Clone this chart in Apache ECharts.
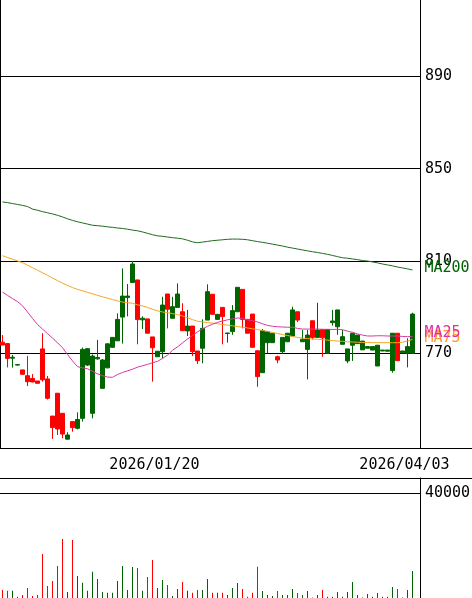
<!DOCTYPE html>
<html><head><meta charset="utf-8">
<script src="https://cdn.jsdelivr.net/npm/echarts@6/dist/echarts.min.js"></script>
<style>html,body{margin:0;padding:0;background:#fff}#c{width:472px;height:598px}</style>
</head><body><div id="c"></div>
<script>
const dates = ['2025/12/01','2025/12/02','2025/12/03','2025/12/04','2025/12/05','2025/12/08','2025/12/09','2025/12/10','2025/12/11','2025/12/12',
'2025/12/15','2025/12/16','2025/12/17','2025/12/18','2025/12/19','2025/12/22','2025/12/23','2025/12/24','2025/12/25','2025/12/26',
'2025/12/29','2025/12/30','2026/01/05','2026/01/06','2026/01/07','2026/01/08','2026/01/09','2026/01/13','2026/01/14','2026/01/15',
'2026/01/16','2026/01/19','2026/01/20','2026/01/21','2026/01/22','2026/01/23','2026/01/26','2026/01/27','2026/01/28','2026/01/29',
'2026/01/30','2026/02/02','2026/02/03','2026/02/04','2026/02/05','2026/02/06','2026/02/09','2026/02/10','2026/02/12','2026/02/13',
'2026/02/16','2026/02/17','2026/02/18','2026/02/19','2026/02/20','2026/02/24','2026/02/25','2026/02/26','2026/02/27','2026/03/02',
'2026/03/03','2026/03/04','2026/03/05','2026/03/06','2026/03/09','2026/03/10','2026/03/11','2026/03/12','2026/03/13','2026/03/16',
'2026/03/17','2026/03/18','2026/03/19','2026/03/23','2026/03/24','2026/03/25','2026/03/26','2026/03/27','2026/03/30','2026/03/31',
'2026/04/01','2026/04/02','2026/04/03'];

const opens = [774.8,774.2,767.9,764.9,762.8,760.3,759.1,758.0,771.9,758.9,
742.8,752.7,744.0,732.8,740.4,737.5,741.8,764.9,744.0,767.6,
754.8,763.7,772.6,775.4,785.7,794.2,800.7,801.8,784.5,784.9,
777.1,768.5,770.7,795.7,785.2,789.9,788.0,779.7,781.8,771.0,
772.2,784.4,795.6,784.7,789.9,778.6,779.4,788.0,797.7,784.7,
787.0,771.1,761.6,774.6,774.6,768.5,770.7,775.0,777.5,788.0,
775.0,771.7,784.1,776.9,780.3,770.0,783.3,781.5,773.9,766.7,
773.5,774.2,771.5,772.2,771.4,764.5,771.0,770.9,762.5,778.7,
770.2,770.0,770.0];
const closes = [773.6,767.8,768.3,765.1,760.9,757.7,757.6,757.0,758.5,750.5,
737.8,737.2,735.0,734.6,737.8,741.3,771.7,772.0,768.8,768.2,
767.1,774.1,776.9,784.7,794.8,794.8,808.7,784.6,785.2,778.7,
772.4,770.9,790.9,789.1,790.2,795.7,779.8,781.8,770.7,766.8,
780.8,796.7,786.9,786.9,785.9,778.8,788.5,798.6,784.7,778.7,
772.6,759.9,779.8,779.4,778.7,767.1,776.9,778.7,788.8,784.4,
776.1,777.9,776.9,780.1,776.7,780.3,784.0,788.8,777.2,771.9,
778.7,777.9,775.3,772.9,772.9,773.5,771.4,771.4,778.7,766.8,
771.0,772.9,787.0];
const lows = [773.6,763.9,763.8,764.8,760.9,755.8,757.4,757.0,757.7,750.0,
732.9,734.6,733.2,732.6,736.0,737.0,740.4,764.5,741.8,767.2,
754.8,763.5,772.4,775.3,774.2,786.0,800.7,773.9,780.5,778.7,
757.7,768.5,767.8,780.8,785.0,789.9,779.8,777.5,768.8,765.4,
765.7,784.4,786.9,784.7,773.9,774.6,778.0,788.0,780.8,778.7,
772.6,755.5,761.6,770.0,774.6,765.7,769.7,775.0,777.5,783.5,
775.0,758.7,776.0,776.9,768.5,770.0,782.0,778.0,773.9,765.7,
766.7,774.2,771.5,772.2,771.4,764.5,771.0,770.9,761.6,766.8,
770.2,763.9,770.0];
const highs = [777.9,774.5,769.3,765.3,762.8,768.9,761.0,758.0,778.7,760.2,
742.8,752.7,744.0,735.8,740.4,744.4,772.5,772.3,769.5,775.8,
767.5,774.3,777.0,787.3,806.8,800.0,810.0,801.8,786.0,784.9,
777.1,771.0,794.5,795.7,794.5,800.3,791.7,788.8,781.8,771.0,
784.7,799.9,795.6,786.9,789.9,778.8,790.9,798.6,797.7,784.7,
787.0,771.1,780.5,779.4,778.7,769.0,776.9,778.7,790.2,788.0,
780.1,780.1,784.1,791.9,780.3,780.3,788.8,788.8,780.1,771.9,
778.7,777.9,775.3,772.9,772.9,773.5,771.4,771.4,778.7,778.7,
771.0,776.5,787.6];

const volumes = [3100,2800,2800,500,1150,3820,760,1150,16800,4580,
6500,12220,22540,2290,22160,8400,5840,2790,10050,7260,
2290,2020,2020,6500,12220,3060,11840,11460,2790,8020,
14520,3820,6880,4970,760,3440,6110,2790,2020,3060,
3060,7260,2020,2020,2020,1150,3820,5730,3440,500,
2020,11960,2670,1150,760,2670,1150,1150,3440,1910,
1150,2670,150,1150,3060,500,500,2290,500,2290,
6110,1150,150,1530,500,1910,500,500,4200,3440,
150,3060,10310];

const ma25 = [796.5,795.1,793.7,792.4,790.6,787.9,785.1,782.5,780.5,778.5,
776.6,774.6,772.4,769.5,766.7,764.2,763.7,763.3,762.2,761.1,
760.3,759.7,759.6,760.8,761.7,762.4,763.1,764.0,764.6,765.2,
765.9,766.5,767.8,769.2,771.3,772.8,774.5,776.2,777.7,779.3,
780.6,781.7,782.6,783.4,784.0,784.5,784.9,785.3,785.1,784.5,
784.1,783.6,782.8,782.1,781.7,781.5,781.4,781.3,781.3,780.8,
780.5,780.5,780.5,780.5,780.4,780.4,780.3,780.4,780.2,779.6,
779.1,778.4,777.9,777.5,777.5,777.6,777.6,777.5,777.5,777.5,
777.3,777.2,777.2];
const ma75 = [812.3,811.5,810.8,810.0,809.3,808.2,807.1,806.0,804.9,803.8,
802.6,801.5,800.4,799.4,798.5,797.7,797.1,796.4,795.8,795.1,
794.5,793.9,793.3,792.7,792.2,791.9,791.7,791.0,790.5,789.9,
789.1,788.4,787.9,787.6,787.2,786.8,786.2,785.4,784.6,783.9,
783.6,783.3,783.1,782.8,782.5,782.2,781.9,781.6,781.3,781.0,
780.6,780.3,779.9,779.5,779.0,778.6,778.1,777.7,777.3,776.9,
776.6,776.4,776.2,776.1,775.9,775.7,775.5,775.3,775.2,775.0,
774.9,774.8,774.7,774.7,774.6,774.6,774.6,774.6,774.6,774.6,
774.8,775.3,776.0];
const ma200 = [835.6,835.3,834.9,834.5,834.1,833.6,832.5,832.0,831.4,830.9,
830.4,829.8,829.1,828.3,827.6,827.0,826.5,826.0,825.5,825.3,
825.1,824.8,824.6,824.3,824.1,823.8,823.4,823.1,822.6,822.0,
821.4,820.9,820.7,820.4,820.1,819.9,819.6,819.0,818.3,817.9,
818.2,818.5,818.8,819.0,819.2,819.4,819.5,819.5,819.4,819.2,
818.8,818.4,818.1,817.7,817.3,816.9,816.5,816.0,815.6,815.2,
814.8,814.4,814.0,813.7,813.3,812.9,812.4,811.9,811.4,811.2,
810.9,810.6,810.2,810.0,809.6,809.2,808.7,808.3,807.9,807.4,
807.0,806.6,806.1];

const priceTicks = [770, 810, 850, 890];
const volumeTickStep = 40000;
const dateTickLabels = ['2026/01/20', '2026/04/03'];
const dateGridLines = ['2026/01/20'];

const FONT = 'DejaVu Sans Mono';
const GREEN = '#006400', RED = '#ff0000';
const categories = dates.concat(['']);
const candleData = dates.map((d, i) => [opens[i], closes[i], lows[i], highs[i]]);
const volData = volumes.map((v, i) => ({ value: v, itemStyle: { color: closes[i] >= opens[i] ? GREEN : RED } }));

const chart = echarts.init(document.getElementById('c'), null, { renderer: 'canvas' });
const txt = { fontFamily: FONT, fontSize: 15, color: '#000' };
const blackLine = { show: true, onZero: false, lineStyle: { color: '#000', width: 1 } };

const option = {
  animation: false,
  backgroundColor: '#fff',
  grid: [
    { left: 0, top: 0, width: 420, height: 448, show: false, outerBoundsMode: 'none', containLabel: false },
    { left: 0, top: 448, width: 472, height: 30, show: false, outerBoundsMode: 'none', containLabel: false },
    { left: 0, top: 478, width: 420, height: 120, show: false, outerBoundsMode: 'none', containLabel: false }
  ],
  xAxis: [
    { type: 'category', gridIndex: 0, data: categories, boundaryGap: true,
      axisLine: { show: false }, axisTick: { show: false },
      splitLine: { show: true, interval: (i, v) => dateGridLines.includes(v), lineStyle: { color: '#000', width: 1 } },
      axisLabel: Object.assign({ show: true, interval: (i, v) => dateTickLabels.includes(v), margin: 10, padding: [0, 16, 0, 0] }, txt) },
    { type: 'value', gridIndex: 1, position: 'top', min: 0, max: 1, axisLine: blackLine,
      axisTick: { show: false }, axisLabel: { show: false }, splitLine: { show: false } },
    { type: 'value', gridIndex: 1, position: 'bottom', min: 0, max: 1, axisLine: blackLine,
      axisTick: { show: false }, axisLabel: { show: false }, splitLine: { show: false } },
    { type: 'category', gridIndex: 2, data: categories, boundaryGap: true, show: false }
  ],
  yAxis: [
    { type: 'value', gridIndex: 0, position: 'right', min: 728.96, max: 923.11, scale: true,
      axisLine: blackLine, axisTick: { show: false },
      splitLine: { show: false }, axisLabel: { show: false } },
    { type: 'value', gridIndex: 1, show: false, min: 0, max: 1 },
    { type: 'value', gridIndex: 2, position: 'right', min: 0, max: 45845, interval: volumeTickStep,
      axisLine: blackLine, axisTick: { show: false },
      splitLine: { show: true, showMinLine: false, showMaxLine: false, lineStyle: { color: '#000', width: 1 } },
      axisLabel: Object.assign({ show: true, showMinLabel: false, showMaxLabel: false, margin: 5, formatter: v => String(v) }, txt) }
  ],
  series: [
    { type: 'candlestick', xAxisIndex: 0, yAxisIndex: 0, data: candleData, barWidth: 4, z: 2,
      itemStyle: { color: GREEN, color0: RED, borderColor: GREEN, borderColor0: RED, borderWidth: 1 },
      markLine: { silent: true, symbol: 'none', z: 1, animation: false,
        lineStyle: { color: '#000', width: 1, type: 'solid' },
        label: Object.assign({ show: true, position: 'end', distance: 5, formatter: p => String(p.value) }, txt),
        emphasis: { disabled: true },
        data: priceTicks.map(v => ({ yAxis: v })) } },
    { type: 'line', name: 'MA200', xAxisIndex: 0, yAxisIndex: 0, data: ma200, showSymbol: false, z: 3,
      lineStyle: { color: '#1f6b1f', width: 1 },
      endLabel: Object.assign({ show: true, formatter: 'MA200', distance: 12, offset: [0, -2] }, txt, { color: GREEN }) },
    { type: 'line', name: 'MA75', xAxisIndex: 0, yAxisIndex: 0, data: ma75, showSymbol: false, z: 3,
      lineStyle: { color: '#f5a623', width: 1 },
      endLabel: Object.assign({ show: true, formatter: 'MA75', distance: 12, offset: [0, -1] }, txt, { color: '#ff9a2e' }) },
    { type: 'line', name: 'MA25', xAxisIndex: 0, yAxisIndex: 0, data: ma25, showSymbol: false, z: 3,
      lineStyle: { color: '#d63aa0', width: 1 },
      endLabel: Object.assign({ show: true, formatter: 'MA25', distance: 12, offset: [0, -4] }, txt, { color: '#e0309f' }) },
    { type: 'bar', xAxisIndex: 3, yAxisIndex: 2, data: volData, barWidth: 1 }
  ]
};
chart.setOption(option);
</script></body></html>
